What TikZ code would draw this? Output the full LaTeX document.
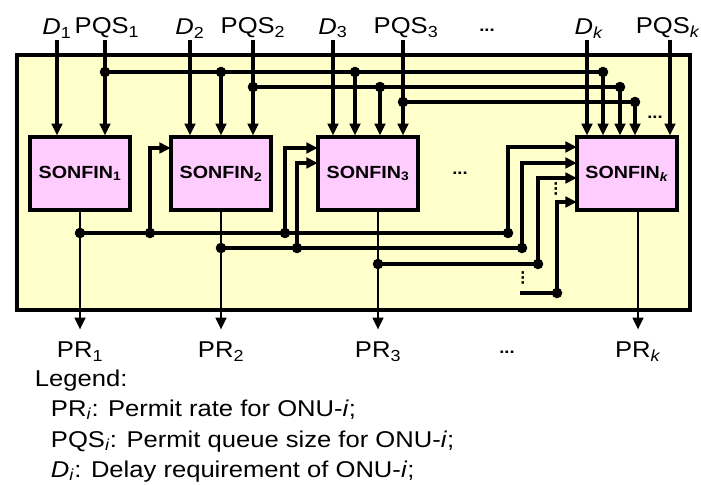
\documentclass[tikz,border=0pt]{standalone}
\usepackage{fontspec}
\setmainfont{Liberation Sans}[FakeStretch=1.12]
\usepackage{xcolor}
\usepackage{tikz}
\usetikzlibrary{positioning,arrows.meta}

\definecolor{panelyellow}{RGB}{255,255,204}
\definecolor{boxpink}{RGB}{255,204,255}

\begin{document}
\begin{tikzpicture}[x=0.03cm,y=-0.03cm,
		wire/.style={line width=3.2pt},
		inarrow/.style={wire,-{Triangle[length=10pt,width=9pt]}},
		outarrow/.style={line width=2pt,-{Triangle[length=10pt,width=9pt]},shorten >=9pt},
		sonfin/.style={draw,line width=2.8pt,fill=boxpink,minimum width=3cm,minimum height=2.19cm,
			inner sep=0pt,font=\fontsize{15}{16}\selectfont\bfseries},
		lab/.style={inner sep=1.5pt,font=\fontsize{19.5}{21}\selectfont},
		dotsep/.style={inner sep=0pt,font=\fontsize{14}{14}\selectfont\bfseries},
		jn/.style={circle,fill,inner sep=0pt,minimum size=9pt}]
				\useasboundingbox (0,0) rectangle (701,485);
				\draw[line width=3.6pt,fill=panelyellow] (17,55) rectangle (690,310);
				
				% SONFIN blocks
				\node[sonfin] (s1) at (80,173.5) {SONFIN\textsubscript{1}};
				\node[sonfin] (s2) at (221,173.5) {SONFIN\textsubscript{2}};
				\node[sonfin] (s3) at (368,173.5) {SONFIN\textsubscript{3}};
				\node[sonfin] (sk) at (627,173.5) {SONFIN\textsubscript{\textit{k}}};
				\node[dotsep] (mdots) at (460,173) {...};
				
				% inputs
				\node[lab,anchor=south] (d1) at (57,40) {\textit{D}\textsubscript{1}};
				\node[lab,anchor=south] (q1) at (107,40) {PQS\textsubscript{1}};
				\node[lab,anchor=south] (d2) at (190,40) {\textit{D}\textsubscript{2}};
				\node[lab,anchor=south] (q2) at (253,40) {PQS\textsubscript{2}};
				\node[lab,anchor=south] (d3) at (333,40) {\textit{D}\textsubscript{3}};
				\node[lab,anchor=south] (q3) at (406,40) {PQS\textsubscript{3}};
				\node[dotsep] (tdots) at (487,30) {...};
				\node[lab,anchor=south] (dk) at (589,40) {\textit{D}\textsubscript{\textit{k}}};
				\node[lab,anchor=south] (qk) at (668,40) {PQS\textsubscript{\textit{k}}};
				
				\node[jn] (j1a) at (105,72) {};
				\node[jn] (j1b) at (221,72) {};
				\node[jn] (j1c) at (355,72) {};
				\node[jn] (j1k) at (603,72) {};
				\node[jn] (j2a) at (253,87) {};
				\node[jn] (j2c) at (380,87) {};
				\node[jn] (j2k) at (620,87) {};
				\node[jn] (j3a) at (403,102) {};
				\node[jn] (j3k) at (635,102) {};
				\node[dotsep] (kdots) at (655,117) {...};
				
				\draw[wire] (j1a.center) -- (j1k.center);
				\draw[wire] (j2a.center) -- (j2k.center);
				\draw[wire] (j3a.center) -- (j3k.center);
				
				\draw[inarrow] (d1.south) -- (d1.south |- s1.north);
				\draw[inarrow] (q1.south -| j1a) -- (j1a |- s1.north);
				\draw[inarrow] (d2.south) -- (d2.south |- s2.north);
				\draw[inarrow] (j1b.center) -- (j1b |- s2.north);
				\draw[inarrow] (q2.south -| j2a) -- (j2a |- s2.north);
				\draw[inarrow] (d3.south) -- (d3.south |- s3.north);
				\draw[inarrow] (j1c.center) -- (j1c |- s3.north);
				\draw[inarrow] (j2c.center) -- (j2c |- s3.north);
				\draw[inarrow] (q3.south -| j3a) -- (j3a |- s3.north);
				\draw[inarrow] (dk.south -| 587,0) -- (587,0 |- sk.north);
				\draw[inarrow] (j1k.center) -- (j1k |- sk.north);
				\draw[inarrow] (j2k.center) -- (j2k |- sk.north);
				\draw[inarrow] (j3k.center) -- (j3k |- sk.north);
				\draw[inarrow] (qk.south -| 670,0) -- (670,0 |- sk.north);
				
				% feedback between blocks
				\node[jn] (o1) at (80,233) {};
				\node[jn] (f12) at (150,233) {};
				\node[jn] (f13) at (285,233) {};
				\node[jn] (f1k) at (508,233) {};
				\node[jn] (o2) at (221,248) {};
				\node[jn] (f23) at (297,248) {};
				\node[jn] (f2k) at (522,248) {};
				\node[jn] (o3) at (378,264) {};
				\node[jn] (f3k) at (538,264) {};
				\coordinate (fd) at (520,293);
				\node[jn] (f4k) at (557,293) {};
				\node[dotsep,rotate=90] (vdots1) at (523,278) {...};
				\node[dotsep,rotate=90] (vdots2) at (556,189) {...};
				
				\coordinate (e2a) at (171,148);
				\coordinate (e3a) at (318,148);
				\coordinate (e3b) at (318,163);
				\coordinate (eka) at (577,147);
				\coordinate (ekb) at (577,163);
				\coordinate (ekc) at (577,178);
				\coordinate (ekd) at (577,202);
				
				\draw[wire] (o1.center) -- (f1k.center);
				\draw[wire] (o2.center) -- (f2k.center);
				\draw[wire] (o3.center) -- (f3k.center);
				\draw[wire] (fd) -- (f4k.center);
				
				\draw[inarrow] (f12.center) |- (e2a);
				\draw[inarrow] (f13.center) |- (e3a);
				\draw[inarrow] (f23.center) |- (e3b);
				\draw[inarrow] (f1k.center) |- (eka);
				\draw[inarrow] (f2k.center) |- (ekb);
				\draw[inarrow] (f3k.center) |- (ekc);
				\draw[inarrow] (f4k.center) |- (ekd);
				
				% outputs
				\node[lab,anchor=north] (r1) at (80,340) {PR\textsubscript{1}};
				\node[lab,anchor=north] (r2) at (221,340) {PR\textsubscript{2}};
				\node[lab,anchor=north] (r3) at (378,340) {PR\textsubscript{3}};
				\node[dotsep] (bdots) at (507,352) {...};
				\node[lab,anchor=north] (rk) at (638,340) {PR\textsubscript{\textit{k}}};
				
				\draw[outarrow] (o1 |- s1.south) -- (r1.north);
				\draw[outarrow] (o2 |- s2.south) -- (r2.north);
				\draw[outarrow] (o3 |- s3.south) -- (r3.north);
				\draw[outarrow] (rk |- sk.south) -- (rk.north);
				
				% legend
				\node[lab,anchor=base west] (leg) at (33,386) {Legend:};
				\node[lab,anchor=base west] (leg1) at (49,416) {PR\textsubscript{\textit{i}}: Permit rate for ONU-\textit{i};};
				\node[lab,anchor=base west] (leg2) at (49,447) {PQS\textsubscript{\textit{i}}: Permit queue size for ONU-\textit{i};};
				\node[lab,anchor=base west] (leg3) at (49,477) {\textit{D}\textsubscript{\textit{i}}: Delay requirement of ONU-\textit{i};};
			\end{tikzpicture}
\end{document}
